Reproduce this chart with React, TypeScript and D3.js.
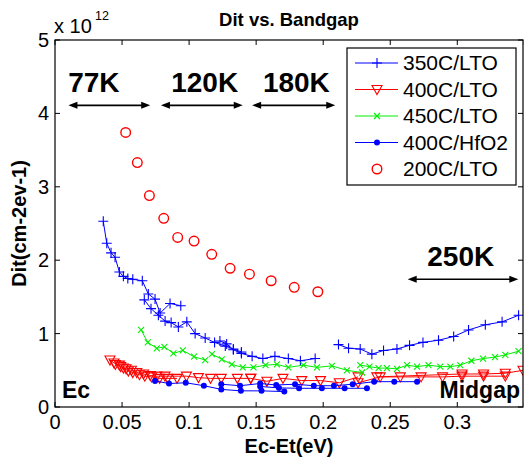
import * as d3 from "d3";

const width = 524;
const height = 459;
const margin = { top: 40, right: 1, bottom: 52, left: 55 };

// Ec-Et (eV) vs Dit (x 1e12 cm-2 eV-1)
const lto350_77K = [
  [0.036, 2.53], [0.0386, 2.23], [0.0418, 2.1], [0.0448, 2.04], [0.048, 1.84],
  [0.051, 1.78], [0.0543, 1.75], [0.058, 1.74], [0.0651, 1.72], [0.0696, 1.54],
  [0.0746, 1.47], [0.0784, 1.28], [0.0858, 1.41], [0.0938, 1.38],
];
const lto350_120K = [
  [0.0666, 1.46], [0.0716, 1.34], [0.0771, 1.25], [0.0821, 1.17], [0.0866, 1.15],
  [0.092, 1.09], [0.0983, 1.16], [0.1045, 1.0], [0.112, 0.94], [0.119, 0.88],
  [0.127, 0.83], [0.133, 0.79], [0.139, 0.75],
];
const lto350_180K = [
  [0.123, 0.9], [0.128, 0.86], [0.133, 0.78], [0.139, 0.73], [0.147, 0.69],
  [0.155, 0.66], [0.164, 0.69], [0.174, 0.66], [0.183, 0.63], [0.194, 0.66],
];
const lto350_250K = [
  [0.2114, 0.85], [0.2189, 0.8], [0.2276, 0.79], [0.2363, 0.72], [0.245, 0.77],
  [0.255, 0.79], [0.2644, 0.84], [0.2744, 0.88], [0.286, 0.91], [0.2973, 0.96],
  [0.3084, 1.05], [0.3209, 1.12], [0.3334, 1.16], [0.3457, 1.25],
];

const lto400_77K = [
  [0.041, 0.64], [0.044, 0.6], [0.048, 0.57], [0.051, 0.53], [0.0547, 0.49],
  [0.058, 0.47], [0.063, 0.44], [0.067, 0.42], [0.072, 0.41], [0.078, 0.39],
  [0.084, 0.39], [0.091, 0.39],
];
const lto400_120K = [
  [0.045, 0.58], [0.049, 0.55], [0.053, 0.52], [0.057, 0.5], [0.061, 0.47],
  [0.066, 0.45], [0.071, 0.43], [0.076, 0.42], [0.082, 0.42], [0.098, 0.42],
  [0.107, 0.4], [0.116, 0.39], [0.124, 0.39], [0.136, 0.39], [0.146, 0.39],
];
const lto400_180K = [
  [0.146, 0.39], [0.158, 0.35], [0.17, 0.39], [0.184, 0.36], [0.198, 0.36],
  [0.212, 0.33], [0.226, 0.41],
];
const lto400_250K = [
  [0.226, 0.33], [0.2425, 0.41], [0.2575, 0.41], [0.273, 0.41], [0.289, 0.41],
  [0.3035, 0.42], [0.3196, 0.42], [0.3358, 0.42],
];
const lto400_250Kb = [
  [0.24, 0.41], [0.3035, 0.45], [0.3196, 0.45], [0.3358, 0.46], [0.349, 0.5],
];

const lto450_77K = [
  [0.0642, 1.05], [0.0692, 0.88], [0.0759, 0.8], [0.0816, 0.82], [0.0883, 0.73],
  [0.0953, 0.77], [0.1037, 0.685], [0.112, 0.64],
];
const lto450_120K = [
  [0.117, 0.72], [0.1244, 0.65], [0.1318, 0.58], [0.14, 0.54], [0.148, 0.54],
  [0.157, 0.57], [0.1655, 0.58], [0.174, 0.54], [0.1853, 0.57], [0.1953, 0.54],
  [0.2065, 0.56], [0.2177, 0.5], [0.229, 0.47],
];
const lto450_250K = [
  [0.2276, 0.57], [0.2345, 0.55], [0.2413, 0.53], [0.2475, 0.53], [0.255, 0.52],
  [0.2625, 0.57], [0.27, 0.55], [0.2785, 0.57], [0.2873, 0.55], [0.2948, 0.55],
  [0.3022, 0.57], [0.3105, 0.63], [0.3192, 0.66], [0.3281, 0.68], [0.3358, 0.71],
  [0.3457, 0.76],
];

const hfo2_77K = [
  [0.0746, 0.355], [0.085, 0.32], [0.0975, 0.33], [0.111, 0.29], [0.124, 0.24],
  [0.1386, 0.22], [0.154, 0.22], [0.171, 0.21],
];
const hfo2_120K = [
  [0.124, 0.31], [0.138, 0.29], [0.153, 0.32], [0.165, 0.3], [0.179, 0.31],
  [0.193, 0.29], [0.208, 0.29], [0.222, 0.31], [0.238, 0.345], [0.253, 0.345],
  [0.27, 0.345],
];
const hfo2_180K = [
  [0.153, 0.28], [0.167, 0.26], [0.182, 0.255], [0.199, 0.255], [0.216, 0.255],
  [0.2326, 0.255],
];

const lto200 = [
  [0.0527, 3.74], [0.0614, 3.33], [0.0704, 2.88], [0.0811, 2.57], [0.0915, 2.31],
  [0.1037, 2.26], [0.1169, 2.08], [0.1306, 1.89], [0.145, 1.81], [0.1612, 1.72],
  [0.1784, 1.63], [0.196, 1.57],
];

const series = [
  { name: "350C/LTO", color: "#0000ff", marker: "plus", line: true, segments: [lto350_77K, lto350_120K, lto350_180K, lto350_250K] },
  { name: "400C/LTO", color: "#ff0000", marker: "tri", line: true, segments: [lto400_77K, lto400_120K, lto400_180K, lto400_250K, lto400_250Kb] },
  { name: "450C/LTO", color: "#00ee00", marker: "x", line: true, segments: [lto450_77K, lto450_120K, lto450_250K] },
  { name: "400C/HfO2", color: "#0000ff", marker: "dot", line: true, segments: [hfo2_77K, hfo2_120K, hfo2_180K] },
  { name: "200C/LTO", color: "#ff0000", marker: "circle", line: false, segments: [lto200] },
];

const xTicks = [0, 0.05, 0.1, 0.15, 0.2, 0.25, 0.3, 0.35];
const xTickLabels = ["0", "0.05", "0.1", "0.15", "0.2", "0.25", "0.3", ""];
const yTicks = [0, 1, 2, 3, 4, 5];

// temperature ranges: [label, label x, arrow x0, arrow x1, arrow y]
const tempRanges = [
  ["77K", 0.029, 0.01, 0.071, 4.11],
  ["120K", 0.1116, 0.079, 0.14, 4.11],
  ["180K", 0.18, 0.147, 0.209, 4.11],
  ["250K", 0.3026, 0.263, 0.3455, 1.74],
];

const font = "Arial, 'Liberation Sans', Helvetica, sans-serif";

function Marker({ type, x, y, color }) {
  if (type === "plus")
    return <path d={`M${x - 5},${y}H${x + 5}M${x},${y - 5}V${y + 5}`} stroke={color} strokeWidth={1.1} fill="none" />;
  if (type === "x")
    return <path d={`M${x - 3},${y - 3}L${x + 3},${y + 3}M${x - 3},${y + 3}L${x + 3},${y - 3}`} stroke={color} strokeWidth={1.1} fill="none" />;
  if (type === "tri")
    return <path d={`M${x - 5},${y - 4}H${x + 5}L${x},${y + 5}Z`} stroke={color} strokeWidth={1.1} fill="none" />;
  if (type === "dot") return <circle cx={x} cy={y} r={3} fill={color} />;
  return <circle cx={x} cy={y} r={4.8} stroke={color} strokeWidth={1.4} fill="none" />;
}

function Arrow({ x0, x1, y }) {
  const h = 9;
  const w = 3.5;
  return (
    <g>
      <line x1={x0 + 4} x2={x1 - 4} y1={y} y2={y} stroke="#000" strokeWidth={1.6} />
      <path d={`M${x0},${y}L${x0 + h},${y - w}L${x0 + h},${y + w}Z`} fill="#000" />
      <path d={`M${x1},${y}L${x1 - h},${y - w}L${x1 - h},${y + w}Z`} fill="#000" />
    </g>
  );
}

export default function App() {
  const x = d3.scaleLinear().domain([0, 0.349]).range([margin.left, width - margin.right]);
  const y = d3.scaleLinear().domain([0, 5]).range([height - margin.bottom, margin.top]);
  const line = d3.line().x((d) => x(d[0])).y((d) => y(d[1]));
  const x0 = x.range()[0], x1 = x.range()[1];
  const y0 = y.range()[0], y1 = y.range()[1];

  const legendX = 347, legendY = 48, legendW = 169, legendH = 137, rowH = 26.5;

  return (
    <svg width={width} height={height} style={{ position: "absolute", left: 0, top: 0, background: "#fff" }} fontFamily={font}>
      <defs>
        <clipPath id="plot">
          <rect x={x0} y={y1} width={x1 - x0} height={y0 - y1} />
        </clipPath>
      </defs>
      <rect width={width} height={height} fill="#fff" />

      {/* data */}
      <g clipPath="url(#plot)">
        {series.map((s) => (
          <g key={s.name}>
            {s.line && s.segments.map((seg, i) => (
              <path key={i} d={line(seg)} fill="none" stroke={s.color} strokeWidth={1} />
            ))}
            {s.segments.map((seg, i) =>
              seg.map((d, j) => <Marker key={`${i}-${j}`} type={s.marker} x={x(d[0])} y={y(d[1])} color={s.color} />)
            )}
          </g>
        ))}
      </g>

      {/* axes box and ticks */}
      <rect x={x0} y={y1} width={x1 - x0} height={y0 - y1} fill="none" stroke="#000" strokeWidth={1.2} />
      {xTicks.map((t, i) => (
        <g key={`xt${t}`}>
          <line x1={x(t)} x2={x(t)} y1={y0} y2={y0 - 5} stroke="#000" />
          <line x1={x(t)} x2={x(t)} y1={y1} y2={y1 + 5} stroke="#000" />
          <text x={x(t)} y={y0 + 22} textAnchor="middle" fontSize={20}>{xTickLabels[i]}</text>
        </g>
      ))}
      {yTicks.map((t) => (
        <g key={`yt${t}`}>
          <line x1={x0} x2={x0 + 5} y1={y(t)} y2={y(t)} stroke="#000" />
          <line x1={x1} x2={x1 - 5} y1={y(t)} y2={y(t)} stroke="#000" />
          <text x={x0 - 6} y={y(t) + 7} textAnchor="end" fontSize={20}>{t}</text>
        </g>
      ))}

      {/* exponent */}
      <text x={54} y={33} fontSize={20}>x 10</text>
      <text x={95} y={20} fontSize={12.5}>12</text>

      {/* titles */}
      <text x={(x0 + x1) / 2} y={26} textAnchor="middle" fontSize={18.5} fontWeight="bold">Dit vs. Bandgap</text>
      <text x={(x0 + x1) / 2} y={453} textAnchor="middle" fontSize={20} fontWeight="bold">Ec-Et(eV)</text>
      <text transform={`translate(26,${(y0 + y1) / 2}) rotate(-90)`} textAnchor="middle" fontSize={20} fontWeight="bold">Dit(cm-2ev-1)</text>

      {/* temperature annotations */}
      {tempRanges.map(([label, lx, a, b, ya]) => (
        <g key={label}>
          <Arrow x0={x(a)} x1={x(b)} y={y(ya)} />
          <text x={x(lx)} y={y(ya) - 13} textAnchor="middle" fontSize={28} fontWeight="bold">{label}</text>
        </g>
      ))}
      <text x={62} y={398} fontSize={23} fontWeight="bold">Ec</text>
      <text x={520} y={398} textAnchor="end" fontSize={23} fontWeight="bold">Midgap</text>

      {/* legend */}
      <g>
        <rect x={legendX} y={legendY} width={legendW} height={legendH} fill="#fff" stroke="#000" strokeWidth={1.2} />
        {series.map((s, i) => {
          const ly = legendY + 15 + i * rowH;
          return (
            <g key={s.name}>
              {s.line && <line x1={legendX + 8} x2={legendX + 51} y1={ly} y2={ly} stroke={s.color} strokeWidth={1} />}
              <Marker type={s.marker} x={legendX + 30} y={ly} color={s.color} />
              <text x={legendX + 56} y={ly + 7} fontSize={21}>{s.name}</text>
            </g>
          );
        })}
      </g>
    </svg>
  );
}
